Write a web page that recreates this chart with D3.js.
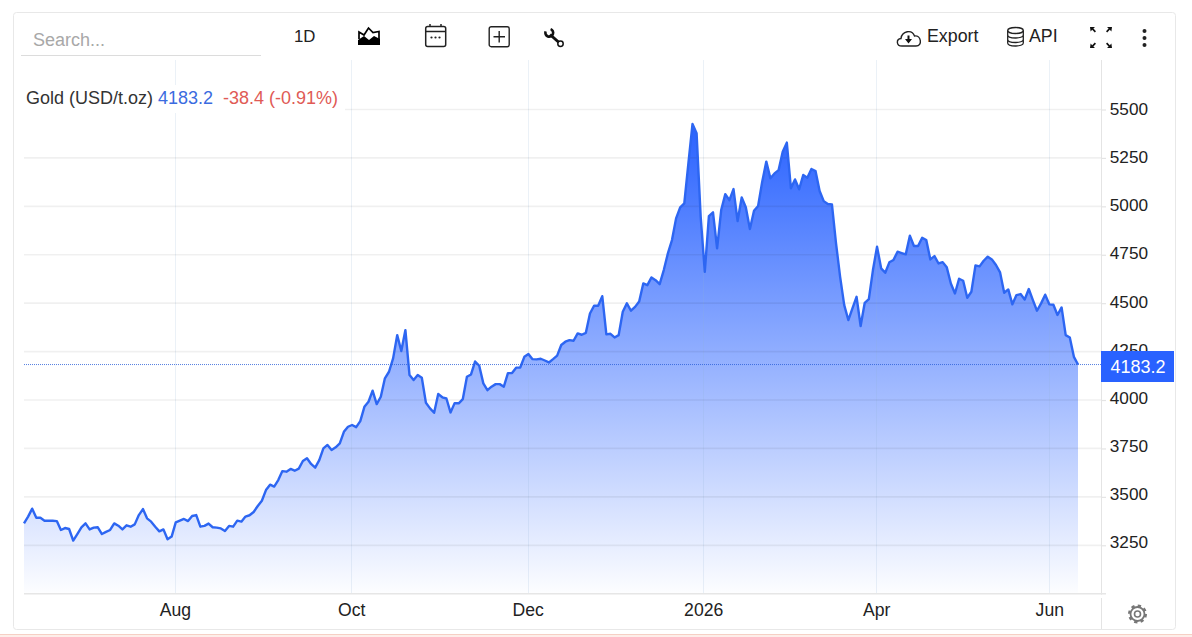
<!DOCTYPE html>
<html>
<head>
<meta charset="utf-8">
<title>Gold (USD/t.oz)</title>
<script src="https://cdn.jsdelivr.net/npm/d3@7/dist/d3.min.js"></script>
<style>
  html, body { margin: 0; padding: 0; background: #fff; overflow: hidden; }
  svg { display: block; }
  text { font-family: "Liberation Sans", Arial, sans-serif; }
</style>
</head>
<body>
<svg id="chart" width="1192" height="637"></svg>
<script>
// Daily gold closes, USD per troy ounce
const goldCloses = [
  3363,3398,3439,3392,3392,3377,3377,3377,3375,3329,3339,3334,3274,3308,3343,3363,
  3332,3341,3343,3308,3319,3329,3363,3351,3332,3353,3346,3358,3406,3437,3389,3372,
  3346,3322,3332,3281,3295,3368,3377,3386,3375,3401,3406,3346,3350,3362,3343,3341,
  3337,3324,3350,3346,3377,3372,3398,3405,3422,3453,3480,3535,3563,3553,3587,3633,
  3630,3644,3635,3646,3685,3699,3670,3651,3690,3750,3768,3742,3756,3776,3836,3862,
  3871,3860,3891,3965,3991,4048,3979,4017,4112,4146,4215,4335,4253,4361,4129,4103,
  4129,4115,3986,3957,3934,4031,
  4014,4008,3936,3984,3983,4005,4120,4132,4199,4177,4086,4051,4069,4082,4082,4069,
  4139,4139,4167,4168,4223,4237,4211,4210,4213,4204,4194,4211,4229,4284,4301,4309,
  4306,4344,4337,4347,4447,4487,4487,4536,4339,4342,4323,4335,4456,4499,4461,4481,
  4509,4602,4593,4633,4619,4598,
  4671,4757,4826,4938,4995,5015,5222,5425,5377,4946,4662,4950,4969,4783,4981,5063,
  5032,5089,4924,5046,4995,4883,4977,5002,5127,5231,5145,5170,5187,5282,5329,5093,
  5139,5088,5162,5148,5193,5182,5079,5027,5012,5010,4809,4636,4490,4413,
  4473,4533,4382,4502,4521,4671,4792,4680,4657,4711,4723,4766,4759,4752,4848,4795,
  4795,4838,4826,4726,4743,4705,4712,4685,4602,4550,4626,4616,4528,4559,4695,4690,
  4719,4740,4726,4697,4659,4554,4571,4494,4542,4547,4519,4573,4516,4461,4499,4544,
  4494,4492,4439,4478,4335,4323,4223,4183.2
];
const priceTicks = [3250,3500,3750,4000,4250,4500,4750,5000,5250,5500];
const timeLabels = ["Aug","Oct","Dec","2026","Apr","Jun"];
const timeLabelSessions = [36.8,79.8,122.8,165.6,207.8,250];
const instrument = "Gold (USD/t.oz)";
const lastPrice = 4183.2;
const changeText = "-38.4 (-0.91%)";

const BLUE = "#2962ff";
const svg = d3.select("#chart");

// Price and session scales
const x = d3.scaleLinear().domain([0, goldCloses.length - 1]).range([24, 1078]);
const y = d3.scaleLinear().domain([3000, 5500]).range([593.7, 109.5]);
const plotLeft = 24, plotRight = 1101, plotTop = 60, plotBottom = y(3000);

// Card outline and the strip under it
svg.append("rect").attr("x", 0).attr("y", 634).attr("width", 1192).attr("height", 3).attr("fill", "#fdeee9");
svg.append("line").attr("x1", 0).attr("x2", 1192).attr("y1", 634.5).attr("y2", 634.5).attr("stroke", "#f6cfc4");
svg.append("rect").attr("x", 13.5).attr("y", 12.5).attr("width", 1162).attr("height", 617)
  .attr("rx", 3).attr("fill", "#fff").attr("stroke", "#e8e8e8");

// Area fill fades towards the baseline
const defs = svg.append("defs");
const grad = defs.append("linearGradient").attr("id", "goldFill")
  .attr("gradientUnits", "userSpaceOnUse")
  .attr("x1", 0).attr("x2", 0).attr("y1", y(d3.max(goldCloses))).attr("y2", plotBottom);
grad.append("stop").attr("offset", 0).attr("stop-color", BLUE).attr("stop-opacity", 1);
grad.append("stop").attr("offset", 1).attr("stop-color", BLUE).attr("stop-opacity", 0.01);

const sessions = goldCloses.map((v, i) => ({ i, v }));
const area = d3.area().x(d => x(d.i)).y0(plotBottom - 1).y1(d => y(d.v));
const line = d3.line().x(d => x(d.i)).y(d => y(d.v));

svg.append("path").datum(sessions).attr("d", area).attr("fill", "url(#goldFill)");

// Grid sits over the fill so it stays faintly visible
const gridV = svg.append("g");
gridV.selectAll("line").data(timeLabelSessions).join("line")
  .attr("x1", d => Math.round(x(d)) + 0.5).attr("x2", d => Math.round(x(d)) + 0.5)
  .attr("y1", plotTop).attr("y2", plotBottom)
  .attr("stroke", "#8fb0d0").attr("stroke-opacity", 0.18);

const gridH = svg.append("g");
gridH.selectAll("line").data(priceTicks).join("line")
  .attr("x1", plotLeft).attr("x2", plotRight)
  .attr("y1", d => y(d)).attr("y2", d => y(d))
  .attr("stroke", "#000").attr("stroke-opacity", 0.06).attr("stroke-width", 1.7);

svg.append("path").datum(sessions).attr("d", line)
  .attr("fill", "none").attr("stroke", "#2d66f2").attr("stroke-width", 2.4).attr("stroke-linejoin", "round");

// Last-price guide
svg.append("line").attr("x1", plotLeft).attr("x2", plotRight)
  .attr("y1", y(lastPrice)).attr("y2", y(lastPrice))
  .attr("stroke", "#2a5fd8").attr("stroke-opacity", 0.8).attr("stroke-width", 1).attr("stroke-dasharray", "1 1");

// Price axis; labels ride a little above their gridlines, more so lower down
const yAxis = d3.axisRight(y).tickValues(priceTicks).tickSize(5).tickPadding(4).tickFormat(d3.format("d"));
const yG = svg.append("g").attr("transform", `translate(${plotRight},0)`).call(yAxis);
yG.select(".domain").remove();
yG.selectAll(".tick line").attr("stroke", "#e4e4e4").attr("stroke-width", 1.2);
yG.selectAll(".tick text").attr("font-size", 17.2).attr("fill", "#222").attr("dy", "0.24em")
  .attr("font-family", '"Liberation Sans", Arial, sans-serif')
  .attr("y", d => 0.8 - 2.4 * (5500 - d) / 2250)
  .attr("x", 8.8);
svg.append("line").attr("x1", plotRight + 0.5).attr("x2", plotRight + 0.5).attr("y1", plotTop).attr("y2", plotBottom + 1)
  .attr("stroke", "#e4e4e4");
svg.append("line").attr("x1", plotRight + 0.5).attr("x2", plotRight + 0.5).attr("y1", 598).attr("y2", 629)
  .attr("stroke", "#e4e4e4");

// Time axis
const xAxis = d3.axisBottom(x).tickValues(timeLabelSessions).tickSize(0).tickPadding(10)
  .tickFormat((d, i) => timeLabels[i]);
const xG = svg.append("g").attr("transform", `translate(0,${plotBottom})`).call(xAxis);
xG.select(".domain").remove();
xG.selectAll(".tick text").attr("font-size", 17.6).attr("fill", "#222")
  .attr("font-family", '"Liberation Sans", Arial, sans-serif');
svg.append("line").attr("x1", plotLeft).attr("x2", plotRight + 5).attr("y1", plotBottom).attr("y2", plotBottom)
  .attr("stroke", "#e6e6e6").attr("stroke-width", 1.6);

// Last-price badge
svg.append("rect").attr("x", 1101).attr("y", 351).attr("width", 73).attr("height", 31).attr("fill", BLUE);
svg.append("text").attr("x", 1138).attr("y", 373).attr("text-anchor", "middle")
  .attr("font-size", 18).attr("fill", "#fff").text(d3.format(".1f")(lastPrice));

// Legend on its own white plate
svg.append("rect").attr("x", 24).attr("y", 85).attr("width", 321).attr("height", 28).attr("fill", "#fff");
const legend = svg.append("text").attr("y", 103.5).attr("font-size", 18);
legend.append("tspan").attr("x", 26).attr("fill", "#333").text(instrument);
legend.append("tspan").attr("x", 158).attr("fill", "#3b6be0").text(d3.format(".1f")(lastPrice));
legend.append("tspan").attr("x", 223).attr("fill", "#e05a55").text(changeText);

// Toolbar
svg.append("text").attr("x", 33).attr("y", 46).attr("font-size", 18).attr("fill", "#a8a8a8").text("Search...");
svg.append("line").attr("x1", 21).attr("x2", 261).attr("y1", 55.5).attr("y2", 55.5).attr("stroke", "#dcdcdc");
svg.append("text").attr("x", 294).attr("y", 42).attr("font-size", 16.8).attr("fill", "#222").text("1D");
svg.append("text").attr("x", 927).attr("y", 42).attr("font-size", 17.8).attr("fill", "#222").text("Export");
svg.append("text").attr("x", 1029).attr("y", 42).attr("font-size", 17.8).attr("fill", "#222").text("API");

const ink = "#222";
// chart-type icon
const iconArea = svg.append("g").attr("transform", "translate(358,27)");
iconArea.append("path").attr("d", "M0 18 L0 13 L6 9 L11 13 L16 9 L22 12 L22 18 Z").attr("fill", "#000");
iconArea.append("path").attr("d", "M1 12 L1 5 L6 8 L10.5 1 L15 5.5 L21 4.5 L21 12").attr("fill", "none").attr("stroke", "#000").attr("stroke-width", 1.7);
// calendar icon
const iconCal = svg.append("g").attr("transform", "translate(425,24)").attr("fill", "none").attr("stroke", ink).attr("stroke-width", 1.5);
iconCal.append("rect").attr("x", 0.7).attr("y", 2.5).attr("width", 20).attr("height", 20).attr("rx", 2);
iconCal.append("line").attr("x1", 0.7).attr("x2", 20.7).attr("y1", 7.5).attr("y2", 7.5);
iconCal.append("line").attr("x1", 5).attr("x2", 5).attr("y1", 0).attr("y2", 3);
iconCal.append("line").attr("x1", 16).attr("x2", 16).attr("y1", 0).attr("y2", 3);
iconCal.selectAll("circle").data([6.5, 10.5, 14.5]).join("circle")
  .attr("cx", d => d).attr("cy", 13.5).attr("r", 1.1).attr("fill", ink).attr("stroke", "none");
// crosshair icon
const iconPlus = svg.append("g").attr("transform", "translate(488.5,26)").attr("fill", "none").attr("stroke", ink).attr("stroke-width", 1.4);
iconPlus.append("rect").attr("x", 0.7).attr("y", 0.7).attr("width", 20).attr("height", 20).attr("rx", 2);
iconPlus.append("path").attr("d", "M10.7 5 V16.5 M5 10.7 H16.5");
// wrench icon
const iconWrench = svg.append("g").attr("transform", "translate(544,28)");
iconWrench.append("path").attr("d", "M1.6 3.4 A3.9 3.9 0 1 0 6.6 1.1").attr("fill", "none").attr("stroke", "#111").attr("stroke-width", 2.6);
iconWrench.append("line").attr("x1", 6).attr("y1", 6.5).attr("x2", 15).attr("y2", 14.5).attr("stroke", "#111").attr("stroke-width", 3);
iconWrench.append("circle").attr("cx", 16.5).attr("cy", 15.8).attr("r", 2.7).attr("fill", "#fff").attr("stroke", "#111").attr("stroke-width", 1.5);
// download cloud icon
const iconCloud = svg.append("g").attr("transform", "translate(896,28)");
iconCloud.append("path").attr("d", "M6 18 C0 18 0 11 5 10.5 C6 3 16 1 18.5 8 C25 7 27 18 20 18 Z").attr("fill", "#fff").attr("stroke", ink).attr("stroke-width", 1.4);
iconCloud.append("path").attr("d", "M9 11 H16 L12.5 15.5 Z M11.5 7.5 H13.5 V11 H11.5 Z").attr("fill", "#111");
// database icon
const iconDb = svg.append("g").attr("transform", "translate(1007,27)").attr("fill", "none").attr("stroke", ink).attr("stroke-width", 1.3);
iconDb.append("ellipse").attr("cx", 8.5).attr("cy", 3.5).attr("rx", 7.8).attr("ry", 3);
iconDb.append("path").attr("d", "M0.7 3.5 V16 C0.7 20 16.3 20 16.3 16 V3.5 M0.7 8 C0.7 12 16.3 12 16.3 8 M0.7 12.5 C0.7 16.5 16.3 16.5 16.3 12.5");
// fullscreen icon: four small corner arrows
const iconFull = svg.append("g").attr("transform", "translate(1090,27)").attr("fill", "#111");
iconFull.selectAll("path").data([[0, 0, 1, 1], [22, 0, -1, 1], [0, 21, 1, -1], [22, 21, -1, -1]]).join("path")
  .attr("d", ([a, b, sx, sy]) =>
    `M${a} ${b} h${5 * sx} l${-1.6 * sx} ${1.6 * sy} l${2.6 * sx} ${2.6 * sy} l${-1.2 * sx} ${1.2 * sy} l${-2.6 * sx} ${-2.6 * sy} l${-1.6 * sx} ${1.6 * sy} Z`);
// overflow menu
svg.append("g").selectAll("circle").data([31, 38, 45]).join("circle")
  .attr("cx", 1144.5).attr("cy", d => d).attr("r", 2).attr("fill", "#222");

// settings gear
const iconGear = svg.append("g").attr("transform", "translate(1137.5,614)").attr("fill", "none").attr("stroke", "#777");
iconGear.append("circle").attr("r", 7).attr("stroke-width", 1.8);
iconGear.append("circle").attr("r", 3).attr("stroke-width", 1.6);
iconGear.append("circle").attr("r", 8.2).attr("stroke-width", 2.6)
  .attr("stroke-dasharray", `${(2 * Math.PI * 8.2 / 8 * 0.5).toFixed(2)} ${(2 * Math.PI * 8.2 / 8 * 0.5).toFixed(2)}`);
</script>
</body>
</html>
